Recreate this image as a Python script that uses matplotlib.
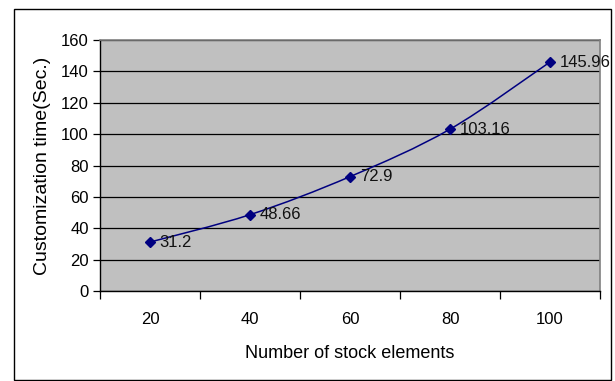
import matplotlib
matplotlib.use("Agg")
import matplotlib.pyplot as plt
from matplotlib.patches import Rectangle, PathPatch
from matplotlib.path import Path

# customization time per number of stock elements
elements = [20, 40, 60, 80, 100]
times = [31.2, 48.66, 72.9, 103.16, 145.96]
time_labels = ["31.2", "48.66", "72.9", "103.16", "145.96"]

plt.rcParams['font.family'] = ['Liberation Sans', 'DejaVu Sans']
plt.rcParams['font.size'] = 12

W, H = 615, 381
fig = plt.figure(figsize=(W / 100, H / 100), dpi=100)
fig.patch.set_facecolor('white')

# outer chart border
fig.patches.append(Rectangle((14 / W, 1 - 380 / H), 597 / W, 371 / H,
                             transform=fig.transFigure, fill=False,
                             edgecolor='black', linewidth=1.0))

ax = fig.add_axes([100 / W, 1 - 291 / H, 500 / W, 251 / H])
ax.set_facecolor('#c0c0c0')

pos = list(range(len(elements)))


def smooth_path(xs, ys):
    # cardinal spline through the points, as bezier segments
    px = [xs[0]] + list(xs) + [xs[-1]]
    py = [ys[0]] + list(ys) + [ys[-1]]
    verts = [(xs[0], ys[0])]
    codes = [Path.MOVETO]
    for i in range(1, len(px) - 2):
        c1 = (px[i] + (px[i + 1] - px[i - 1]) / 6, py[i] + (py[i + 1] - py[i - 1]) / 6)
        c2 = (px[i + 1] - (px[i + 2] - px[i]) / 6, py[i + 1] - (py[i + 2] - py[i]) / 6)
        verts += [c1, c2, (px[i + 1], py[i + 1])]
        codes += [Path.CURVE4] * 3
    return Path(verts, codes)


ax.add_patch(PathPatch(smooth_path(pos, times), facecolor='none',
                       edgecolor='#000080', linewidth=1.1, zorder=3))
ax.plot(pos, times, linestyle='none', marker='D', markersize=5,
        markerfacecolor='#000080', markeredgecolor='#000080', zorder=4)
for x, y, lab in zip(pos, times, time_labels):
    ax.annotate(lab, (x, y), xytext=(7, 0), textcoords='offset points',
                ha='left', va='center', fontsize=12, color='#111111')

ax.set_xlim(-0.5, len(elements) - 0.5)
ax.set_ylim(0, 160)
ax.set_yticks(range(0, 161, 20))
ax.yaxis.grid(True, color='black', linewidth=0.9)
ax.set_axisbelow(True)
ax.tick_params(axis='y', length=5, width=0.9, direction='out', pad=3,
               labelsize=12)

# category ticks sit between the categories, labels at the centres
ax.set_xticks([p - 0.5 for p in pos] + [len(pos) - 0.5])
ax.set_xticklabels([])
ax.tick_params(axis='x', which='major', length=6, width=0.9, direction='out')
ax.set_xticks(pos, minor=True)
ax.set_xticklabels([str(e) for e in elements], minor=True)
ax.tick_params(axis='x', which='minor', length=0, pad=15, labelsize=12)

for side in ('top', 'right'):
    ax.spines[side].set_color('#808080')
    ax.spines[side].set_linewidth(1.2)
for side in ('left', 'bottom'):
    ax.spines[side].set_color('black')
    ax.spines[side].set_linewidth(1.0)

ax.set_xlabel('Number of stock elements', fontsize=13, labelpad=13)
ax.set_ylabel('Customization time(Sec.)', fontsize=14, labelpad=7)

fig.savefig('out.png', dpi=100)
